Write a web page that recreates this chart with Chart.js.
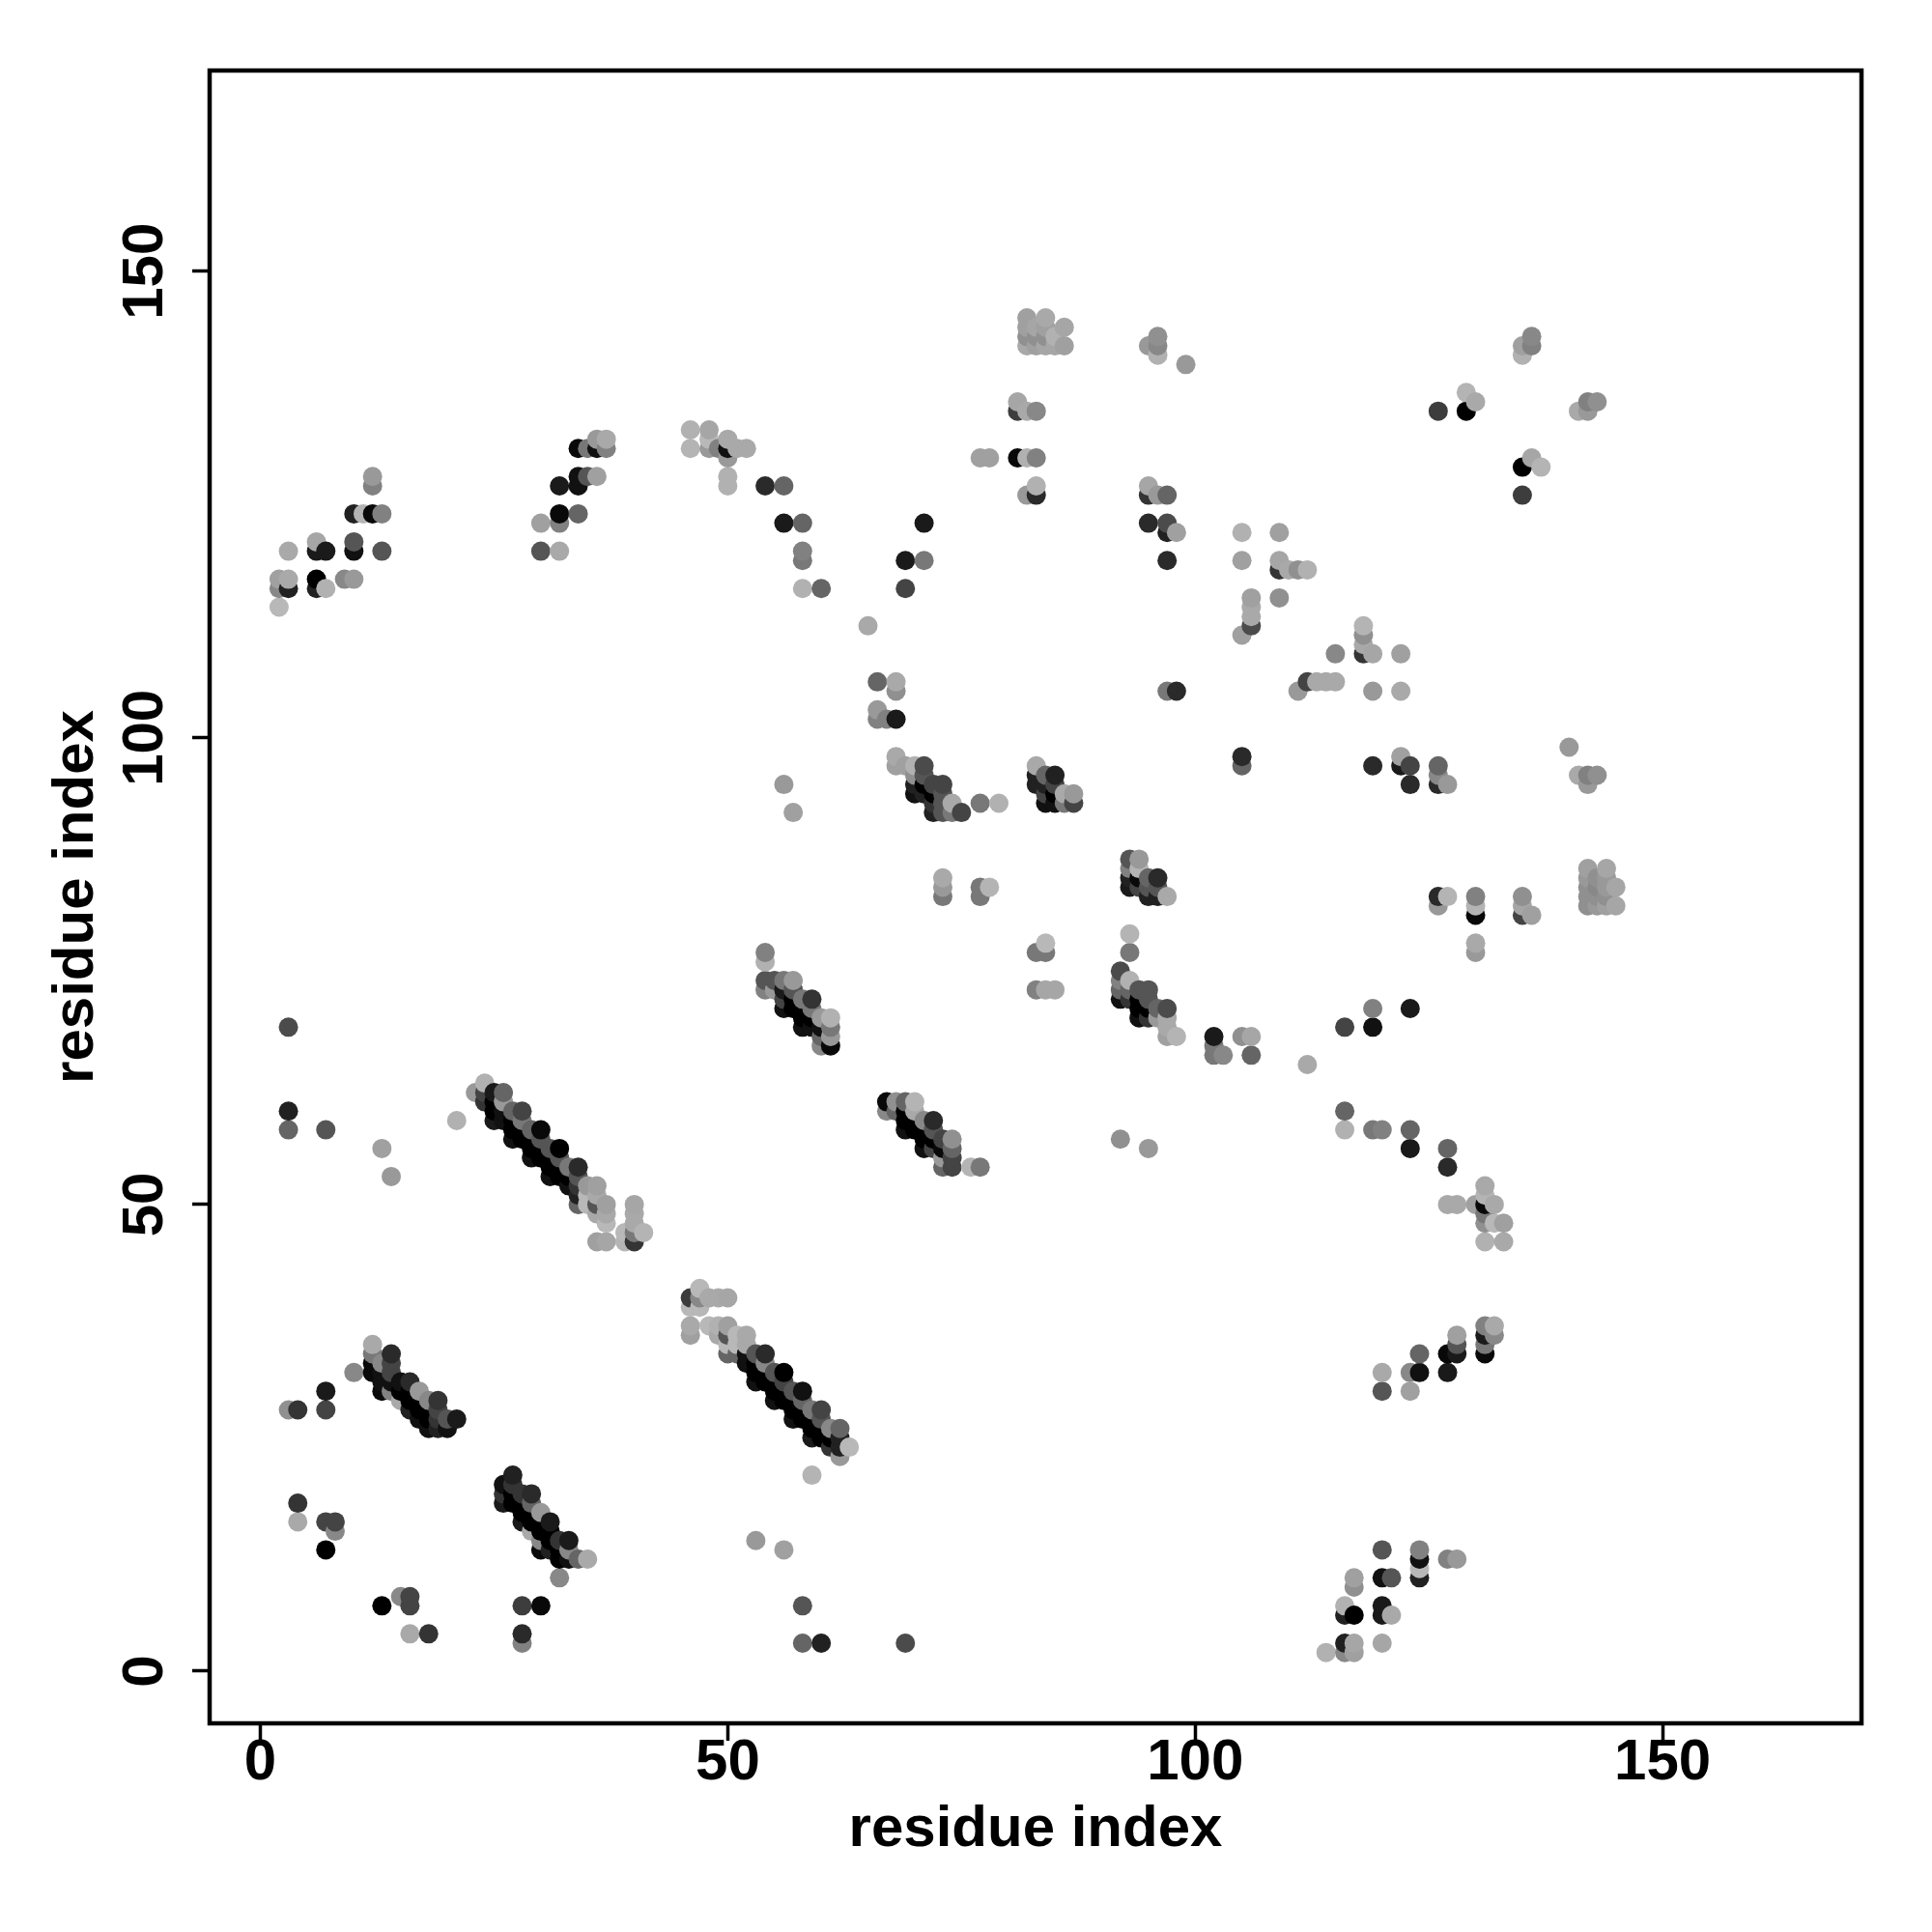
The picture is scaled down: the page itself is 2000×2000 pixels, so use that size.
<!DOCTYPE html>
<html>
<head>
<meta charset="utf-8">
<title>residue contacts</title>
<script src="https://cdn.jsdelivr.net/npm/chart.js@4/dist/chart.umd.js"></script>
<style>
  html, body { margin: 0; padding: 0; background: #fff; }
  canvas { display: block; }
</style>
</head>
<body>
<canvas id="contactMap" width="2000" height="2000"></canvas>
<script>
// one row per residue i: the partners j it contacts and how strong each contact is (0-100)
const residueI = [
  2, 3, 4, 6, 7, 8, 9, 10, 11, 12,
  13, 14, 15, 16, 17, 18, 19, 20, 21, 23,
  24, 25, 26, 27, 28, 29, 30, 31, 32, 33,
  34, 35, 36, 37, 39, 40, 41, 46, 47, 48,
  49, 50, 51, 52, 53, 54, 55, 56, 57, 58,
  59, 60, 61, 62, 63, 65, 66, 67, 68, 69,
  70, 71, 72, 73, 74, 75, 76, 77, 78, 79,
  81, 82, 83, 84, 85, 86, 87, 92, 93, 94,
  95, 96, 97, 98, 99, 102, 103, 105, 106, 109,
  110, 111, 112, 113, 114, 115, 116, 117, 118, 119,
  120, 121, 122, 123, 124, 126, 127, 128, 129, 130,
  131, 132, 133, 135, 136, 137, 140, 141, 142, 143,
  144, 145
];

const partnerJ = [
  [114, 116, 117],
  [28, 58, 60, 69, 116, 117, 120],
  [16, 18, 28],
  [116, 117, 120, 121],
  [13, 16, 28, 30, 58, 116, 120],
  [15, 16],
  [117],
  [32, 117, 120, 121, 124],
  [124],
  [32, 33, 34, 35, 124, 127, 128],
  [7, 30, 31, 32, 33, 56, 120, 124],
  [30, 31, 32, 33, 34, 53],
  [8, 29, 30, 31],
  [4, 7, 8, 28, 29, 30, 31],
  [27, 28, 29, 30],
  [4, 26, 27, 28, 29],
  [26, 27, 28, 29],
  [26, 27],
  [27, 59],
  [62],
  [61, 62, 63],
  [59, 60, 61, 62],
  [18, 19, 20, 59, 60, 61, 62],
  [18, 19, 20, 21, 57, 58, 59, 60],
  [3, 4, 7, 16, 17, 18, 19, 57, 58, 59, 60],
  [15, 16, 17, 18, 19, 55, 56, 57, 58],
  [7, 13, 14, 15, 16, 17, 55, 56, 57, 58, 120, 123],
  [13, 14, 15, 16, 53, 54, 55, 56],
  [10, 12, 13, 14, 53, 54, 55, 56, 120, 123, 124, 127],
  [12, 13, 14, 52, 53, 54],
  [12, 50, 51, 52, 53, 54, 124, 127, 128, 131],
  [12, 50, 51, 52, 128, 131],
  [46, 49, 50, 51, 52, 128, 131, 132],
  [46, 48, 49, 50, 131, 132],
  [46, 47],
  [46, 47, 48, 49, 50],
  [47],
  [36, 37, 39, 40, 131, 133],
  [39, 40, 41],
  [37, 40, 131, 132, 133],
  [36, 37, 40, 131],
  [34, 35, 36, 37, 40, 127, 128, 130, 131, 132],
  [34, 35, 36, 131],
  [33, 34, 35, 36, 131],
  [14, 31, 32, 33, 34],
  [31, 32, 33, 34, 73, 74, 76, 77, 127],
  [29, 30, 31, 32, 73, 74],
  [13, 29, 30, 31, 32, 71, 72, 73, 74, 95, 123, 127],
  [27, 28, 29, 30, 71, 72, 73, 74, 92],
  [3, 7, 27, 28, 29, 30, 69, 70, 71, 72, 116, 119, 120, 123],
  [21, 25, 26, 27, 28, 69, 70, 71, 72],
  [3, 25, 26, 27, 28, 67, 68, 69, 70, 116],
  [24, 25, 26, 67, 68, 69, 70],
  [23, 24, 25, 26],
  [24],
  [112],
  [102, 103, 106],
  [60, 61, 102],
  [60, 61, 97, 98, 102, 105, 106],
  [3, 58, 59, 60, 61, 97, 116, 119],
  [58, 59, 60, 61, 94, 95, 96, 97],
  [56, 57, 58, 59, 94, 95, 96, 97, 119, 123],
  [56, 57, 58, 59, 92, 93, 94, 95],
  [54, 55, 56, 57, 83, 84, 85, 92, 93, 94, 95],
  [54, 55, 56, 57, 92, 93],
  [92],
  [54],
  [54, 83, 84, 93, 130],
  [84, 130],
  [93],
  [130, 135, 136],
  [126, 130, 135, 142, 143, 144, 145],
  [73, 77, 95, 96, 97, 126, 127, 130, 135, 142, 143, 144],
  [73, 77, 78, 93, 94, 95, 96, 142, 143, 144, 145],
  [73, 93, 94, 95, 96, 142, 143],
  [93, 94, 142, 144],
  [93, 94],
  [57, 72, 73, 74, 75],
  [72, 73, 74, 77, 79, 84, 85, 86, 87],
  [70, 71, 72, 73, 84, 85, 86, 87],
  [56, 70, 71, 72, 73, 83, 84, 85, 123, 126, 127, 142],
  [70, 71, 83, 84, 85, 126, 141, 142, 143],
  [68, 69, 70, 71, 83, 105, 119, 122, 123, 126],
  [68, 105, 122],
  [140],
  [66, 67, 68],
  [66],
  [68, 97, 98, 111, 119, 122],
  [66, 68, 112, 113, 114, 115],
  [115, 118, 119, 122],
  [118],
  [105, 118],
  [65, 106, 118],
  [106],
  [2, 106],
  [106, 109],
  [2, 3, 6, 7, 58, 60, 69],
  [2, 3, 6, 9, 10],
  [109, 110, 111, 112],
  [58, 69, 71, 97, 105, 109],
  [3, 6, 7, 10, 13, 30, 32, 58],
  [6, 10],
  [97, 98, 105, 109],
  [30, 32, 56, 58, 71, 95, 97],
  [10, 11, 12, 13, 32, 34],
  [82, 83, 95, 96, 97, 135],
  [12, 32, 34, 50, 54, 56, 83, 95],
  [12, 34, 35, 36, 50],
  [135, 137],
  [50, 77, 78, 81, 82, 83, 136],
  [34, 35, 36, 37, 46, 48, 49, 50, 51, 52],
  [36, 37, 48, 50],
  [46, 48],
  [81, 82, 83, 126, 129, 141, 142],
  [81, 130, 142, 143],
  [129],
  [99],
  [96, 135],
  [82, 83, 84, 85, 86, 95, 96, 135, 136],
  [82, 83, 84, 85, 96, 136],
  [82, 83, 84, 85, 86],
  [82, 84]
];

const strength = [
  [0, 26, 13],
  [22, 45, 82, 59, 82, 8, 8],
  [8, 72, 72],
  [82, 100, 86, 10],
  [100, 63, 63, 86, 54, 4, 86],
  [26, 63],
  [26],
  [26, 17, 91, 54, 82],
  [2],
  [95, 95, 35, 8, 95, 30, 17],
  [100, 95, 91, 91, 26, 13, 54, 30],
  [30, 91, 63, 63, 77, 17],
  [26, 8, 100, 91],
  [8, 63, 63, 82, 100, 100, 77],
  [91, 100, 100, 17],
  [72, 91, 100, 100, 26],
  [82, 72, 63, 72],
  [91, 54],
  [86, 4],
  [17],
  [72, 63, 4],
  [86, 100, 100, 86],
  [86, 72, 91, 91, 91, 17, 45],
  [100, 100, 72, 82, 91, 100, 100, 45],
  [30, 77, 67, 86, 100, 100, 72, 100, 100, 35, 63],
  [8, 100, 100, 45, 77, 91, 100, 100, 45],
  [95, 95, 26, 100, 100, 17, 100, 100, 54, 95, 54, 13],
  [82, 100, 100, 86, 91, 100, 100, 54],
  [26, 100, 100, 72, 100, 100, 54, 100, 8, 30, 95, 86],
  [91, 26, 86, 91, 100, 35],
  [45, 45, 82, 72, 54, 77, 45, 91, 91, 95],
  [8, 0, 0, 17, 54, 35],
  [13, 8, 54, 8, 13, 13, 91, 17],
  [10, 0, 8, 13, 30, 8],
  [2, 0],
  [72, 35, 8, 8, 10],
  [2],
  [13, 8, 0, 67, 2, 4],
  [0, 26, 0],
  [0, 8, 17, 0, 10],
  [8, 4, 8, 30],
  [45, 0, 54, 13, 10, 4, 4, 17, 91, 8],
  [45, 0, 0, 8],
  [91, 91, 8, 8, 8],
  [17, 91, 100, 100, 54],
  [100, 100, 26, 77, 30, 54, 4, 30, 77],
  [91, 100, 100, 54, 17, 54],
  [13, 100, 100, 63, 100, 91, 63, 86, 35, 17, 86, 45],
  [91, 100, 100, 54, 100, 100, 54, 17, 13],
  [45, 54, 100, 100, 45, 91, 91, 100, 100, 35, 4, 35, 30, 45],
  [2, 86, 100, 100, 35, 91, 100, 35, 72],
  [82, 100, 100, 54, 63, 26, 45, 91, 17, 45],
  [72, 100, 26, 95, 17, 35, 4],
  [17, 82, 82, 45],
  [0],
  [8],
  [30, 17, 45],
  [26, 95, 30],
  [45, 22, 13, 8, 86, 22, 8],
  [59, 91, 100, 100, 45, 13, 63, 86],
  [100, 100, 8, 2, 91, 82, 22, 4],
  [91, 100, 100, 26, 82, 100, 54, 59, 35, 86],
  [63, 100, 54, 77, 82, 72, 100, 63],
  [45, 17, 95, 63, 35, 17, 8, 54, 54, 54, 63],
  [63, 63, 45, 22, 35, 8],
  [63],
  [2],
  [35, 35, 35, 35, 13],
  [2, 13],
  [4],
  [95, 67, 10],
  [17, 4, 8, 8, 22, 13, 13],
  [30, 35, 82, 82, 8, 77, 4, 30, 26, 13, 22, 10],
  [10, 35, 0, 91, 63, 82, 45, 10, 22, 13, 8],
  [10, 91, 100, 63, 82, 10, 4],
  [35, 8, 13, 10],
  [63, 17],
  [22, 91, 45, 30, 59],
  [72, 45, 4, 35, 2, 86, 82, 30, 54],
  [91, 100, 100, 54, 63, 95, 2, 17],
  [17, 72, 100, 54, 54, 82, 54, 45, 77, 72, 10, 17],
  [17, 45, 82, 54, 77, 17, 4, 26, 22],
  [13, 8, 8, 59, 8, 35, 77, 82, 59, 45],
  [2, 77, 13],
  [17],
  [35, 35, 86],
  [26],
  [22, 45, 77, 13, 13, 4],
  [45, 10, 59, 8, 8, 13],
  [22, 72, 10, 13],
  [8],
  [17, 22],
  [8, 63, 4],
  [8],
  [4, 8],
  [8, 26],
  [26, 82, 82, 4, 4, 45, 63],
  [13, 10, 100, 22, 13],
  [72, 8, 22, 2],
  [35, 91, 30, 77, 17, 10],
  [10, 86, 86, 91, 54, 54, 8, 30],
  [8, 54],
  [86, 13, 8, 13],
  [13, 26, 86, 45, 86, 77, 63],
  [82, 0, 91, 30, 91, 45],
  [17, 77, 77, 26, 45, 67],
  [30, 86, 95, 8, 77, 45, 2, 17],
  [17, 86, 54, 13, 8],
  [100, 2],
  [13, 17, 8, 95, 2, 30, 8],
  [95, 35, 86, 30, 4, 22, 35, 95, 2, 8],
  [26, 8, 0, 8],
  [8, 13],
  [63, 10, 22, 67, 100, 4, 13],
  [13, 10, 30, 26],
  [2],
  [17],
  [8, 8],
  [22, 22, 22, 17, 13, 17, 30, 17, 30],
  [17, 22, 26, 22, 22, 22],
  [13, 22, 17, 17, 10],
  [10, 10]
];

const xTicks = [0, 50, 100, 150];
const yTicks = [0, 50, 100, 150];
const axisLabel = 'residue index';

const points = residueI.flatMap((i, row) =>
  partnerJ[row].map((j, k) => ({ x: i, y: j, s: strength[row][k] }))
);

// strong contacts are black, weak ones fade to light grey
const shade = (s) => {
  const g = Math.round(184 * (1 - s / 100));
  return `rgb(${g},${g},${g})`;
};

const boldFont = { family: '"Liberation Sans", Arial, sans-serif', size: 60, weight: 'bold' };

const framePlugin = {
  id: 'frame',
  afterDraw(chart) {
    const { ctx, chartArea } = chart;
    ctx.save();
    ctx.strokeStyle = '#000';
    ctx.lineWidth = 4.5;
    ctx.strokeRect(chartArea.left, chartArea.top, chartArea.right - chartArea.left, chartArea.bottom - chartArea.top);
    ctx.restore();
  }
};

const axisGrid = { display: true, drawOnChartArea: false, drawTicks: true, tickLength: 18, tickWidth: 3.5, tickColor: '#000' };

new Chart(document.getElementById('contactMap').getContext('2d'), {
  type: 'scatter',
  data: {
    datasets: [{
      label: 'contacts',
      data: points,
      pointRadius: 10,
      pointBorderWidth: 0,
      pointBackgroundColor: points.map(p => shade(p.s))
    }]
  },
  plugins: [framePlugin],
  options: {
    responsive: false,
    animation: false,
    layout: { padding: { top: 73, right: 73, left: 0, bottom: 0 } },
    plugins: { legend: { display: false }, tooltip: { enabled: false } },
    scales: {
      x: {
        type: 'linear',
        min: -5.43,
        max: 171.28,
        border: { display: false },
        grid: axisGrid,
        afterBuildTicks: (axis) => { axis.ticks = xTicks.map(value => ({ value })); },
        afterFit: (axis) => { axis.height = 216; },
        ticks: { color: '#000', font: boldFont, padding: -13, maxRotation: 0, autoSkip: false },
        title: { display: true, text: axisLabel, color: '#000', font: boldFont, padding: { top: 0, bottom: 70 } }
      },
      y: {
        type: 'linear',
        min: -5.59,
        max: 171.5,
        border: { display: false },
        grid: axisGrid,
        afterBuildTicks: (axis) => { axis.ticks = yTicks.map(value => ({ value })); },
        afterFit: (axis) => { axis.width = 217; },
        ticks: { color: '#000', font: boldFont, padding: -3, minRotation: 90, maxRotation: 90, crossAlign: 'center', autoSkip: false },
        title: { display: true, text: axisLabel, color: '#000', font: boldFont, padding: { top: 43, bottom: 0 } }
      }
    }
  }
});
</script>
</body>
</html>
